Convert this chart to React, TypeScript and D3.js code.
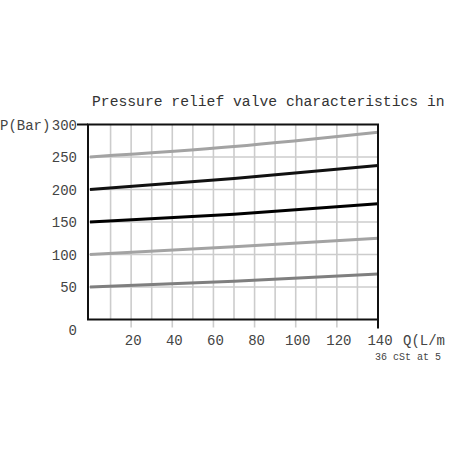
import React from "react";
import * as d3 from "d3";

const flowTicks = [20, 40, 60, 80, 100, 120, 140];
const flowGrid = [10, 20, 30, 40, 50, 60, 70, 80, 90, 100, 110, 120, 130];
const pressureTicks = [50, 100, 150, 200, 250, 300];
const pressureGrid = [50, 100, 150, 200, 250];

const flowPoints = [0, 70, 140];
const series250 = [250, 266, 288];
const series200 = [200, 217, 237];
const series150 = [150, 162, 178];
const series100 = [100, 112, 125];
const series50 = [50, 59, 70];

const seriesList = [
  { values: series250, color: "#a3a3a3" },
  { values: series200, color: "#111111" },
  { values: series150, color: "#000000" },
  { values: series100, color: "#a3a3a3" },
  { values: series50, color: "#7f7f7f" },
];

const FONT = "'Liberation Mono', 'Courier New', monospace";

export default function App() {
  const x = d3.scaleLinear().domain([0, 140]).range([90, 378]);
  const y = d3.scaleLinear().domain([0, 300]).range([319.5, 124.5]);
  const line = d3
    .line<[number, number]>()
    .x((d) => x(d[0]))
    .y((d) => y(d[1]))
    .curve(d3.curveNatural);

  const left = 88;
  const right = x(140);
  const top = y(300);
  const bottom = y(0);

  return (
    <svg
      width={452}
      height={452}
      style={{ position: "absolute", left: 0, top: 0, background: "#fff" }}
    >
      <rect x={0} y={0} width={452} height={452} fill="#fff" />
      <text x={92} y={105.5} fontFamily={FONT} fontSize={14.7} fill="#333">
        Pressure relief valve characteristics in
      </text>
      {/* grid */}
      {flowGrid.map((v) => (
        <line
          key={"vg" + v}
          x1={x(v)}
          x2={x(v)}
          y1={top}
          y2={v % 20 === 0 ? bottom + 8 : bottom}
          stroke="#cccccc"
          strokeWidth={1.6}
        />
      ))}
      {pressureGrid.map((v) => (
        <line
          key={"hg" + v}
          x1={left}
          x2={right}
          y1={y(v)}
          y2={y(v)}
          stroke="#cccccc"
          strokeWidth={1.6}
        />
      ))}
      {/* series */}
      {seriesList.map((s, i) => (
        <path
          key={i}
          d={line(flowPoints.map((f, j) => [f, s.values[j]] as [number, number])) || ""}
          fill="none"
          stroke={s.color}
          strokeWidth={3}
        />
      ))}
      {/* frame */}
      <rect
        x={left}
        y={top}
        width={right - left}
        height={bottom - top}
        fill="none"
        stroke="#111"
        strokeWidth={2}
      />
      <line x1={77} x2={left} y1={top} y2={top} stroke="#111" strokeWidth={2} />
      <line x1={right} x2={right} y1={bottom} y2={bottom + 9} stroke="#111" strokeWidth={2} />
      {/* y labels */}
      {pressureTicks.map((v) => (
        <text
          key={"yl" + v}
          x={77}
          y={y(v) + 5}
          textAnchor="end"
          fontFamily={FONT}
          fontSize={14}
          fill="#444"
        >
          {v}
        </text>
      ))}
      <text x={77} y={335} textAnchor="end" fontFamily={FONT} fontSize={14} fill="#444">
        0
      </text>
      <text x={0} y={129.5} fontFamily={FONT} fontSize={14} fill="#444">
        P(Bar)
      </text>
      {/* x labels */}
      {flowTicks.map((v) => (
        <text
          key={"xl" + v}
          x={x(v) + 2}
          y={345}
          textAnchor="middle"
          fontFamily={FONT}
          fontSize={14}
          fill="#444"
        >
          {v}
        </text>
      ))}
      <text x={403} y={345} fontFamily={FONT} fontSize={14} fill="#444">
        Q(L/m
      </text>
      <text x={375} y={360} fontFamily={FONT} fontSize={10} fill="#444">
        36 cSt at 5
      </text>
    </svg>
  );
}
